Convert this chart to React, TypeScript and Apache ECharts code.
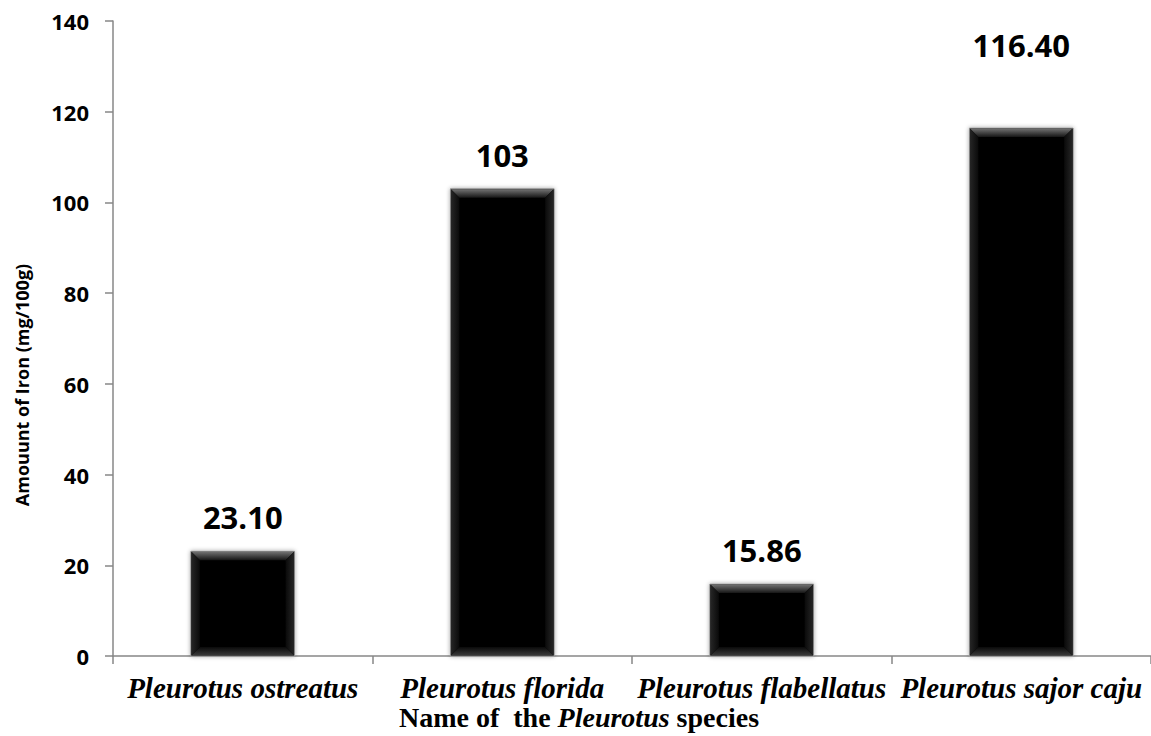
import React, { useEffect, useRef } from "react";
import * as echarts from "echarts";

// Iron content of four oyster-mushroom species (mg per 100 g)
const species = [
  "Pleurotus ostreatus",
  "Pleurotus florida",
  "Pleurotus flabellatus",
  "Pleurotus sajor caju",
];
const ironValues = [23.1, 103, 15.86, 116.4];
const valueLabels = ["23.10", "103", "15.86", "116.40"];
const yTicks = { min: 0, max: 140, interval: 20 };

// how far each value label sits above its bar (px)
const labelRaise = [34, 34, 34, 83];

const AXIS_GREY = "#878787";
const SERIF = "'Liberation Serif', 'Times New Roman', serif";
const SANS = "'Open Sans', sans-serif";

export default function App() {
  const ref = useRef<HTMLDivElement>(null);

  useEffect(() => {
    document.body.style.margin = "0";
    if (!ref.current) return;
    const chart = echarts.init(ref.current, null, { renderer: "svg" });

    const renderBar = (params: any, api: any) => {
      const idx = api.value(0);
      const val = api.value(1);
      const top = api.coord([idx, val]);
      const base = api.coord([idx, 0]);
      const bw = api.size([1, 0])[0] * 0.4;
      const x0 = top[0] - bw / 2;
      const x1 = top[0] + bw / 2;
      const y0 = top[1];
      const y1 = base[1];
      const b = 9;
      const lin = (x: number, y: number, x2: number, y2: number, c0: string, c1: string) =>
        new echarts.graphic.LinearGradient(x, y, x2, y2, [
          { offset: 0, color: c0 },
          { offset: 1, color: c1 },
        ]);
      return {
        type: "group",
        children: [
          {
            type: "rect",
            shape: { x: x0, y: y0, width: bw, height: y1 - y0 },
            style: {
              fill: "#060606",
              stroke: "#a0a0a0",
              lineWidth: 1,
              shadowBlur: 4,
              shadowColor: "rgba(0,0,0,0.35)",
            },
          },
          {
            type: "polygon",
            shape: { points: [[x0 + 0.5, y0 + 0.5], [x1 - 0.5, y0 + 0.5], [x1 - b, y0 + b], [x0 + b, y0 + b]] },
            style: { fill: lin(0, 0, 0, 1, "#727272", "#151515") },
          },
          {
            type: "polygon",
            shape: { points: [[x0 + 0.5, y1 - 0.5], [x1 - 0.5, y1 - 0.5], [x1 - b, y1 - b], [x0 + b, y1 - b]] },
            style: { fill: lin(0, 1, 0, 0, "#3a3a3a", "#0a0a0a") },
          },
          {
            type: "polygon",
            shape: { points: [[x0 + 0.5, y0 + 0.5], [x0 + b, y0 + b], [x0 + b, y1 - b], [x0 + 0.5, y1 - 0.5]] },
            style: { fill: lin(0, 0, 1, 0, "#262626", "#0a0a0a") },
          },
          {
            type: "polygon",
            shape: { points: [[x1 - 0.5, y0 + 0.5], [x1 - b, y0 + b], [x1 - b, y1 - b], [x1 - 0.5, y1 - 0.5]] },
            style: { fill: lin(1, 0, 0, 0, "#262626", "#0a0a0a") },
          },
          {
            type: "text",
            x: top[0],
            y: y0 - labelRaise[idx],
            style: {
              text: valueLabels[idx],
              fill: "#000",
              font: `bold 31px ${SANS}`,
              align: "center",
              verticalAlign: "middle",
            },
          },
        ],
      };
    };

    chart.setOption({
      animation: false,
      grid: { left: 113, right: 0, top: 21, bottom: 80, containLabel: false },
      xAxis: {
        type: "category",
        data: species,
        axisLine: { show: true, lineStyle: { color: AXIS_GREY, width: 1.5 } },
        axisTick: { show: true, length: 8, alignWithLabel: false, lineStyle: { color: AXIS_GREY, width: 1.5 } },
        axisLabel: {
          interval: 0,
          margin: 17,
          color: "#000",
          fontFamily: SERIF,
          fontStyle: "italic",
          fontWeight: "bold",
          fontSize: 29,
        },
        splitLine: { show: false },
      },
      yAxis: {
        type: "value",
        min: yTicks.min,
        max: yTicks.max,
        interval: yTicks.interval,
        axisLine: { show: true, lineStyle: { color: AXIS_GREY, width: 1.5 } },
        axisTick: { show: true, length: 8, lineStyle: { color: AXIS_GREY, width: 1.5 } },
        axisLabel: {
          margin: 24,
          color: "#000",
          fontFamily: SANS,
          fontWeight: "bold",
          fontSize: 22,
          formatter: "{v|{value}}",
          rich: {
            v: { fontFamily: SANS, fontWeight: "bold", fontSize: 22, color: "#000" },
          },
        },
        splitLine: { show: false },
      },
      graphic: [
        {
          type: "text",
          x: 22,
          y: 385,
          rotation: Math.PI / 2,
          style: {
            text: "Amouunt of Iron (mg/100g)",
            fill: "#000",
            font: `bold 18px ${SANS}`,
            align: "center",
            verticalAlign: "middle",
          },
        },
        {
          type: "text",
          x: 579,
          y: 717,
          style: {
            text: "{a|Name of  the }{i|Pleurotus}{a| species}",
            align: "center",
            verticalAlign: "middle",
            rich: {
              a: { fontFamily: SERIF, fontWeight: "bold", fontSize: 28, fill: "#000" },
              i: { fontFamily: SERIF, fontWeight: "bold", fontStyle: "italic", fontSize: 28, fill: "#000" },
            },
          },
        },
      ],
      series: [
        {
          type: "custom",
          renderItem: renderBar,
          data: ironValues.map((v, i) => [i, v]),
          encode: { x: 0, y: 1 },
          clip: false,
        },
      ],
    });

    return () => chart.dispose();
  }, []);

  return <div ref={ref} style={{ width: 1151, height: 736 }} />;
}
